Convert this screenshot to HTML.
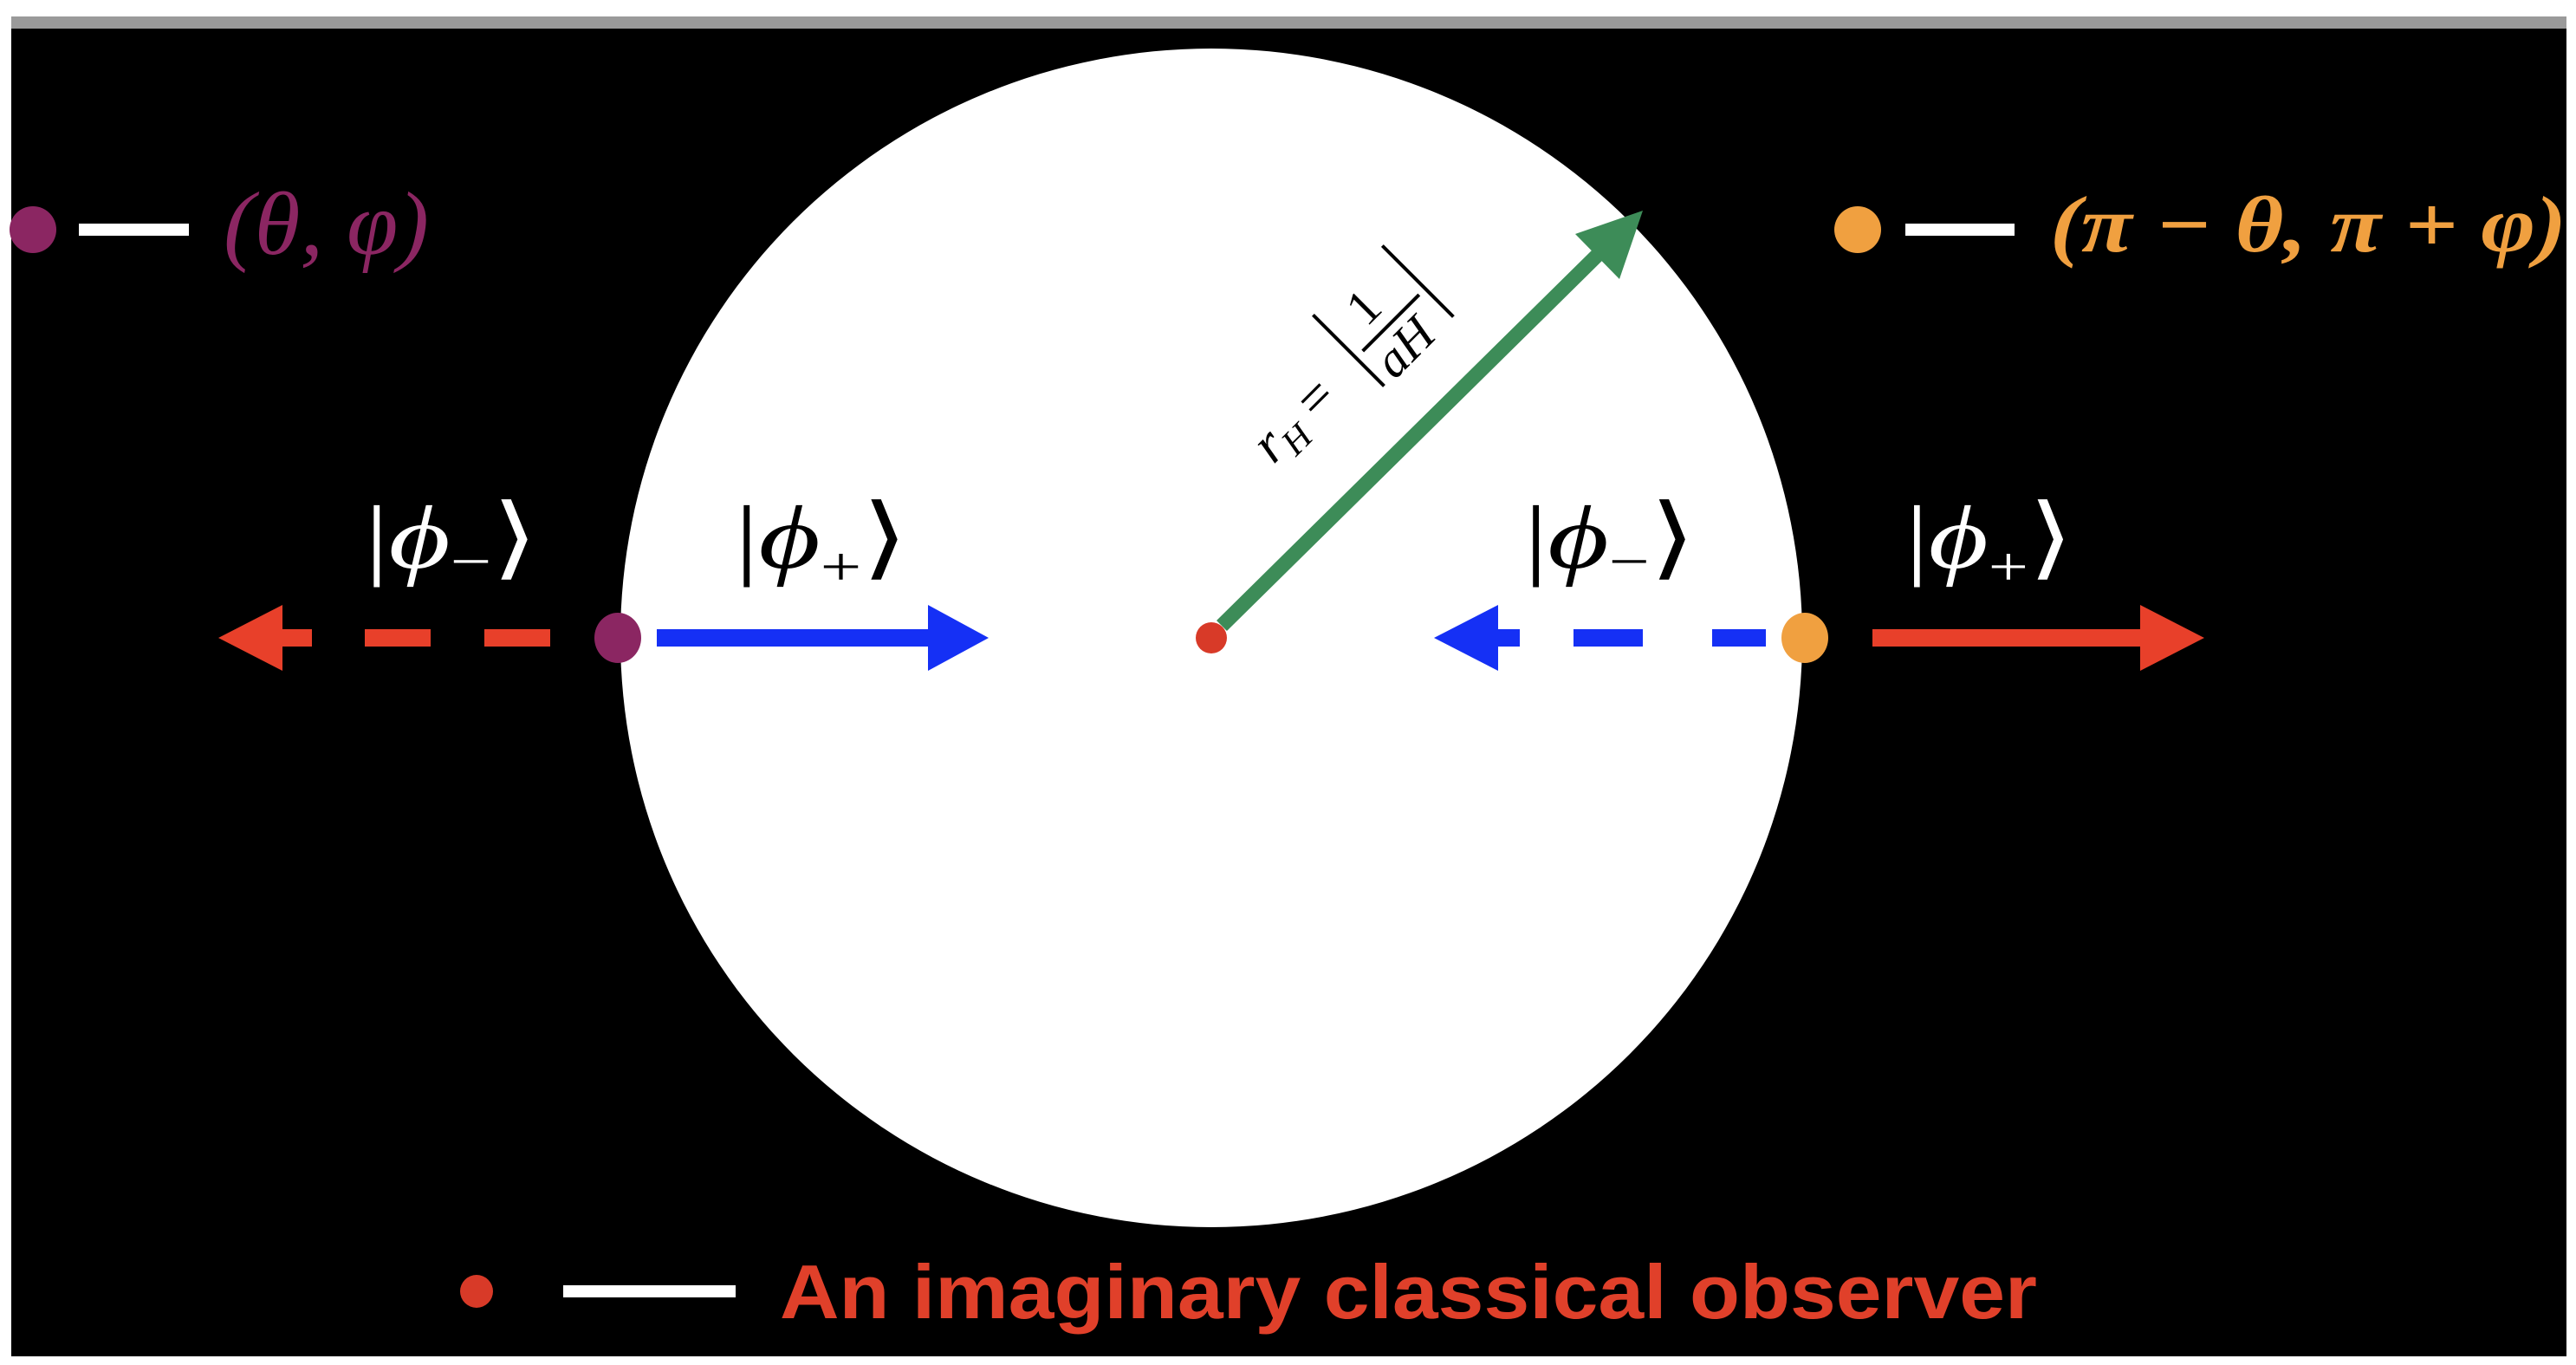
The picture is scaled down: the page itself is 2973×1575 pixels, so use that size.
<!DOCTYPE html>
<html><head><meta charset="utf-8"><style>
html,body{margin:0;padding:0;background:#fff;}
svg{display:block;}
</style></head><body>
<svg width="2973" height="1575" viewBox="0 0 2973 1575" xmlns="http://www.w3.org/2000/svg">
<rect x="0" y="0" width="2973" height="1575" fill="#fff"/>
<rect x="13" y="19" width="2949" height="14" fill="#9a9a9a"/>
<rect x="13" y="33" width="2949" height="1532" fill="#000"/>
<ellipse cx="1398" cy="736" rx="682" ry="680" fill="#fff"/>

<!-- top legend -->
<circle cx="38" cy="265" r="27" fill="#8B2662"/>
<rect x="91" y="258" width="127" height="14" fill="#fff"/>
<text x="258" y="293" font-family="Liberation Serif, serif" font-style="italic" font-size="104" fill="#8B2662" textLength="237" lengthAdjust="spacingAndGlyphs">(θ, φ)</text>

<circle cx="2144" cy="265" r="27" fill="#F0A040"/>
<rect x="2199" y="258" width="126" height="14" fill="#fff"/>
<text x="2366" y="290" font-family="Liberation Serif, serif" font-style="italic" font-weight="bold" font-size="92" fill="#F0A040" textLength="596" lengthAdjust="spacingAndGlyphs">(π − θ, π + φ)</text>

<!-- kets -->
<g font-family="Liberation Serif, serif" font-size="104">
<text x="421" y="655" fill="#fff" textLength="200" lengthAdjust="spacingAndGlyphs">|<tspan font-style="italic">ϕ</tspan><tspan font-size="64" dy="14">−</tspan><tspan dy="-14">⟩</tspan></text>
<text x="848" y="655" fill="#000" textLength="200" lengthAdjust="spacingAndGlyphs">|<tspan font-style="italic">ϕ</tspan><tspan font-size="64" dy="20">+</tspan><tspan dy="-20">⟩</tspan></text>
<text x="1759" y="655" fill="#000" textLength="198" lengthAdjust="spacingAndGlyphs">|<tspan font-style="italic">ϕ</tspan><tspan font-size="64" dy="14">−</tspan><tspan dy="-14">⟩</tspan></text>
<text x="2199" y="655" fill="#fff" textLength="194" lengthAdjust="spacingAndGlyphs">|<tspan font-style="italic">ϕ</tspan><tspan font-size="64" dy="20">+</tspan><tspan dy="-20">⟩</tspan></text>
</g>

<!-- left red dashed arrow -->
<polygon points="252,736 326,698 326,774" fill="#E8402A"/>
<rect x="326" y="726" width="34" height="20" fill="#E8402A"/>
<rect x="421" y="726" width="76" height="20" fill="#E8402A"/>
<rect x="559" y="726" width="76" height="20" fill="#E8402A"/>
<ellipse cx="713" cy="736" rx="27" ry="29" fill="#8B2662"/>

<!-- blue arrow right -->
<rect x="758" y="726" width="313" height="20" fill="#1530F5"/>
<polygon points="1071,698 1141,736 1071,774" fill="#1530F5"/>

<!-- center -->
<line x1="1410" y1="722" x2="1850" y2="288" stroke="#3D8C58" stroke-width="17"/>
<polygon points="1896,243 1818,270 1869,322" fill="#3D8C58"/>
<circle cx="1398" cy="736" r="18" fill="#D83A28"/>

<g transform="translate(1560,415) rotate(-45)" font-family="Liberation Serif, serif" fill="#000">
<text x="-150" y="22" font-size="64" font-style="italic">r<tspan font-size="42" dy="12">H</tspan><tspan font-style="normal" dy="-12" font-size="64"> =</tspan></text>
<line x1="5" y1="-68" x2="5" y2="48" stroke="#000" stroke-width="4"/>
<text x="38" y="-14" font-size="58">1</text>
<line x1="16" y1="2" x2="108" y2="2" stroke="#000" stroke-width="4"/>
<text x="18" y="52" font-size="58" font-style="italic">aH</text>
<line x1="118" y1="-68" x2="118" y2="48" stroke="#000" stroke-width="4"/>
</g>

<!-- right blue dashed arrow -->
<polygon points="1655,736 1729,698 1729,774" fill="#1530F5"/>
<rect x="1729" y="726" width="25" height="20" fill="#1530F5"/>
<rect x="1816" y="726" width="80" height="20" fill="#1530F5"/>
<rect x="1976" y="726" width="62" height="20" fill="#1530F5"/>
<ellipse cx="2083" cy="736" rx="27" ry="29" fill="#F0A040"/>

<!-- red arrow right -->
<rect x="2161" y="726" width="309" height="20" fill="#E8402A"/>
<polygon points="2470,698 2544,736 2470,774" fill="#E8402A"/>

<!-- bottom legend -->
<circle cx="550" cy="1490" r="19" fill="#D83A28"/>
<rect x="650" y="1483" width="199" height="14" fill="#fff"/>
<text x="900" y="1521" font-family="Liberation Sans, sans-serif" font-weight="bold" font-size="88" fill="#E0402A" textLength="1451" lengthAdjust="spacingAndGlyphs">An imaginary classical observer</text>
</svg>
</body></html>
